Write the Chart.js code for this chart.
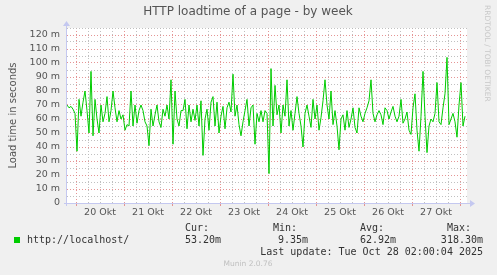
<!DOCTYPE html>
<html>
<head>
<meta charset="utf-8">
<script src="https://cdn.jsdelivr.net/npm/chart.js@4.4.1/dist/chart.umd.min.js"></script>
<style>
  html, body { margin: 0; padding: 0; background: #f0f0f0; }
  canvas { display: block; }
</style>
</head>
<body>
<canvas id="loadChart" width="497" height="275"></canvas>
<script>
// hourly samples (ms), first one 4.5 h before 20 Okt 00:00
const startHour = -4.5;
const loadTimes = [
  70, 68, 69, 67, 64, 37, 74, 62, 72, 80, 66, 50, 94, 48, 74, 60, 50, 70, 58, 64, 76, 58, 66, 80, 68, 58, 66, 60, 63,
  52, 56, 55, 80, 55, 70, 57, 66, 70, 66, 58, 55, 41, 67, 55, 63, 70, 58, 54, 67, 62, 70, 60, 88, 42, 80, 60, 55, 66,
  66, 74, 53, 70, 58, 67, 59, 70, 55, 73, 34, 60, 67, 52, 72, 76, 55, 72, 50, 62, 69, 53, 68, 72, 65, 92, 62, 70, 56,
  48, 58, 66, 74, 55, 68, 70, 42, 64, 58, 66, 58, 66, 64, 21, 96, 55, 84, 63, 70, 50, 70, 62, 88, 55, 66, 52, 64, 76,
  64, 55, 40, 64, 70, 62, 54, 74, 60, 70, 52, 61, 73, 88, 70, 60, 80, 56, 66, 55, 38, 60, 63, 52, 66, 54, 60, 68, 54,
  50, 68, 62, 58, 64, 68, 73, 88, 64, 58, 63, 66, 63, 56, 68, 66, 60, 65, 69, 62, 58, 62, 74, 57, 60, 65, 52, 49, 68,
  78, 52, 37, 62, 94, 62, 36, 55, 60, 58, 64, 86, 58, 56, 68, 78, 104, 56, 60, 64, 58, 47, 70, 86, 55, 62
];
const dayLabels = ['20 Okt', '21 Okt', '22 Okt', '23 Okt', '24 Okt', '25 Okt', '26 Okt', '27 Okt'];
const statNames = ['Cur:', 'Min:', 'Avg:', 'Max:'];
const statValues = ['53.20m', '9.35m', '62.92m', '318.30m'];
const seriesName = 'http://localhost/';

const gridRed = 'rgba(225,130,130,0.85)';
const gridGray = 'rgba(185,185,185,0.9)';
const axisColor = '#c4c8f0';

const hourTicks = [];
for (let h = 0; h <= 192; h += 6) hourTicks.push(h);

const muninDecor = {
  id: 'muninDecor',
  beforeDraw(chart) {
    const c = chart.ctx, a = chart.chartArea;
    c.save();
    c.fillStyle = '#f0f0f0';
    c.fillRect(0, 0, chart.width, chart.height);
    c.fillStyle = '#ffffff';
    c.fillRect(a.left, a.top, a.right - a.left, a.bottom - a.top);
    c.restore();
  },
  afterDraw(chart) {
    const c = chart.ctx, a = chart.chartArea;
    const xs = chart.scales.x;
    c.save();
    // axes
    c.strokeStyle = axisColor;
    c.lineWidth = 1;
    c.beginPath();
    c.moveTo(a.left - 3, a.bottom + 0.5); c.lineTo(a.right + 4, a.bottom + 0.5);
    c.moveTo(a.left - 0.5, a.bottom + 3); c.lineTo(a.left - 0.5, a.top - 3);
    c.stroke();
    c.fillStyle = axisColor;
    c.beginPath();
    c.moveTo(a.right + 8, a.bottom + 0.5); c.lineTo(a.right + 3, a.bottom - 3); c.lineTo(a.right + 3, a.bottom + 4);
    c.fill();
    c.beginPath();
    c.moveTo(a.left - 0.5, a.top - 7); c.lineTo(a.left - 4, a.top - 2); c.lineTo(a.left + 3, a.top - 2);
    c.fill();
    // red day marks under axis
    c.strokeStyle = gridRed;
    hourTicks.filter(h => h % 24 === 0).forEach(h => {
      const px = Math.round(xs.getPixelForValue(h)) + 0.5;
      c.beginPath(); c.moveTo(px, a.bottom + 1); c.lineTo(px, a.bottom + 3); c.stroke();
    });

    // title
    c.fillStyle = '#555';
    c.font = '12px "DejaVu Sans"';
    c.textAlign = 'center';
    c.textBaseline = 'middle';
    c.fillText('HTTP loadtime of a page - by week', 248, 12);

    // y title
    c.save();
    c.translate(13, (a.top + a.bottom) / 2);
    c.rotate(-Math.PI / 2);
    c.font = '10px "DejaVu Sans"';
    c.fillText('Load time in seconds', 0, 0);
    c.restore();

    // rrdtool credit
    c.save();
    c.translate(487, 5);
    c.rotate(Math.PI / 2);
    c.fillStyle = '#c8c8c8';
    c.font = '7.5px "DejaVu Sans"';
    c.textAlign = 'left';
    c.fillText('RRDTOOL / TOBI OETIKER', 0, 0);
    c.restore();

    // legend
    c.font = '10px "DejaVu Sans Mono"';
    c.fillStyle = '#333';
    c.textAlign = 'left';
    const statX = [185, 273, 360, 447];
    statNames.forEach((s, i) => c.fillText(s, statX[i], 228));
    c.textAlign = 'right';
    const valRight = [221, 308, 396, 483];
    statValues.forEach((v, i) => c.fillText(v, valRight[i], 240));
    c.fillText('Last update: Tue Oct 28 02:00:04 2025', 483, 252);
    c.textAlign = 'left';
    c.fillText(seriesName, 27, 240);
    c.fillStyle = '#00cc00';
    c.fillRect(14, 237, 6, 6);

    c.fillStyle = '#c0c0c0';
    c.font = '7.5px "DejaVu Sans"';
    c.textAlign = 'center';
    c.fillText('Munin 2.0.76', 248, 264);
    c.restore();
  }
};

const ctx = document.getElementById('loadChart').getContext('2d');
const loadChart = new Chart(ctx, {
  type: 'line',
  data: {
    datasets: [{
      label: seriesName,
      data: loadTimes.map((v, i) => ({ x: startHour + i, y: v })),
      borderColor: '#00cc00',
      borderWidth: 1,
      pointRadius: 0,
      tension: 0,
      fill: false
    }]
  },
  options: {
    responsive: false,
    animation: false,
    events: [],
    layout: { padding: { top: 28, right: 30, left: 0, bottom: 0 } },
    plugins: { legend: { display: false }, tooltip: { enabled: false } },
    scales: {
      x: {
        type: 'linear',
        min: startHour,
        max: startHour + 200,
        afterBuildTicks: s => { s.ticks = hourTicks.map(h => ({ value: h })); },
        afterFit: s => { s.height = 72; },
        border: { display: false, dash: [1, 2] },
        grid: {
          drawTicks: false,
          color: c => (c.tick && c.tick.value % 24 === 0) ? gridRed : gridGray
        },
        ticks: {
          autoSkip: false,
          maxRotation: 0,
          padding: 4,
          color: '#555',
          font: { family: 'DejaVu Sans', size: 9.5 },
          callback: v => v % 24 === 12 ? dayLabels[(v - 12) / 24] : ''
        }
      },
      y: {
        min: 0,
        max: 125,
        afterFit: s => { s.width = 67; },
        border: { display: false, dash: [1, 2] },
        grid: {
          drawTicks: false,
          color: c => {
            if (!c.tick || c.tick.value === 0) return 'rgba(0,0,0,0)';
            return c.tick.value % 10 === 0 ? gridRed : gridGray;
          }
        },
        ticks: {
          stepSize: 5,
          autoSkip: false,
          padding: 7,
          color: '#555',
          font: { family: 'DejaVu Sans', size: 9.5 },
          callback: v => v % 10 === 0 ? (v === 0 ? '0' : v + ' m') : ''
        }
      }
    }
  },
  plugins: [muninDecor]
});
</script>
</body>
</html>
